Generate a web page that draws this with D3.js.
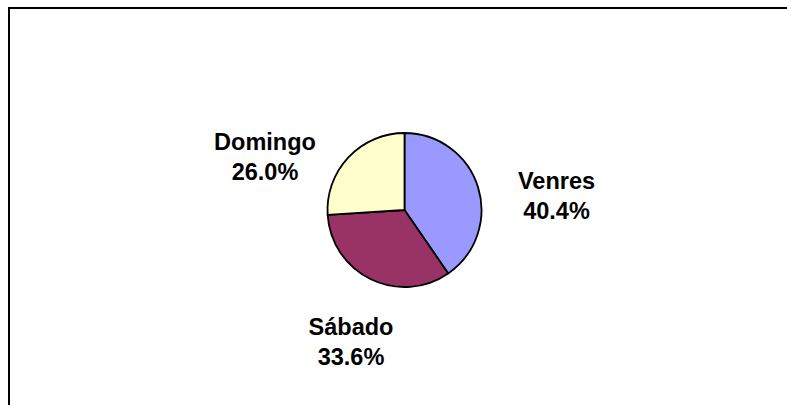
<!DOCTYPE html>
<html>
<head>
<meta charset="utf-8">
<script src="https://cdn.jsdelivr.net/npm/d3@7"></script>
<style>
  html, body { margin: 0; padding: 0; background: #fff; overflow: hidden; }
  svg { display: block; }
</style>
</head>
<body>
<svg id="chart" width="787" height="405"></svg>
<script>
// ---- data ----
const categories = ["Venres", "Sábado", "Domingo"];
const values = [40.4, 33.6, 26.0];
const percentLabels = ["40.4%", "33.6%", "26.0%"];

// ---- layout / style ----
const W = 787, H = 405;
const colors = ["#9999FF", "#993366", "#FFFFCC"];
const cx = 404.5, cy = 210, radius = 77;
// label first-line baseline offset from pie centre (Excel best-fit placement)
const labelOffsets = [[152, -21.5], [-53.5, 125], [-139.5, -60]];
const lineGap = 30;

const svg = d3.select("#chart");

// chart area border (extends past the window on right & bottom)
svg.append("rect")
  .attr("x", 9).attr("y", 8)
  .attr("width", W + 20).attr("height", H + 20)
  .attr("fill", "#fff")
  .attr("stroke", "#000")
  .attr("stroke-width", 2);

const pie = d3.pie().sort(null).startAngle(0).endAngle(2 * Math.PI);
const arcs = pie(values);
const arc = d3.arc().innerRadius(0).outerRadius(radius);

const g = svg.append("g").attr("transform", `translate(${cx},${cy})`);

g.selectAll("path.slice")
  .data(arcs)
  .join("path")
  .attr("class", "slice")
  .attr("d", arc)
  .attr("fill", (d, i) => colors[i])
  .attr("stroke", "#000")
  .attr("stroke-width", 1.8)
  .attr("stroke-linejoin", "round");

const labels = g.selectAll("text.lbl")
  .data(arcs)
  .join("text")
  .attr("class", "lbl")
  .attr("text-anchor", "middle")
  .attr("font-family", "'Liberation Sans', Arial, Helvetica, sans-serif")
  .attr("font-weight", "bold")
  .attr("font-size", "23.5px")
  .attr("fill", "#000");

labels.append("tspan")
  .attr("x", (d, i) => labelOffsets[i][0])
  .attr("y", (d, i) => labelOffsets[i][1])
  .text((d, i) => categories[i]);

labels.append("tspan")
  .attr("x", (d, i) => labelOffsets[i][0])
  .attr("y", (d, i) => labelOffsets[i][1] + lineGap)
  .text((d, i) => percentLabels[i]);
</script>
</body>
</html>
